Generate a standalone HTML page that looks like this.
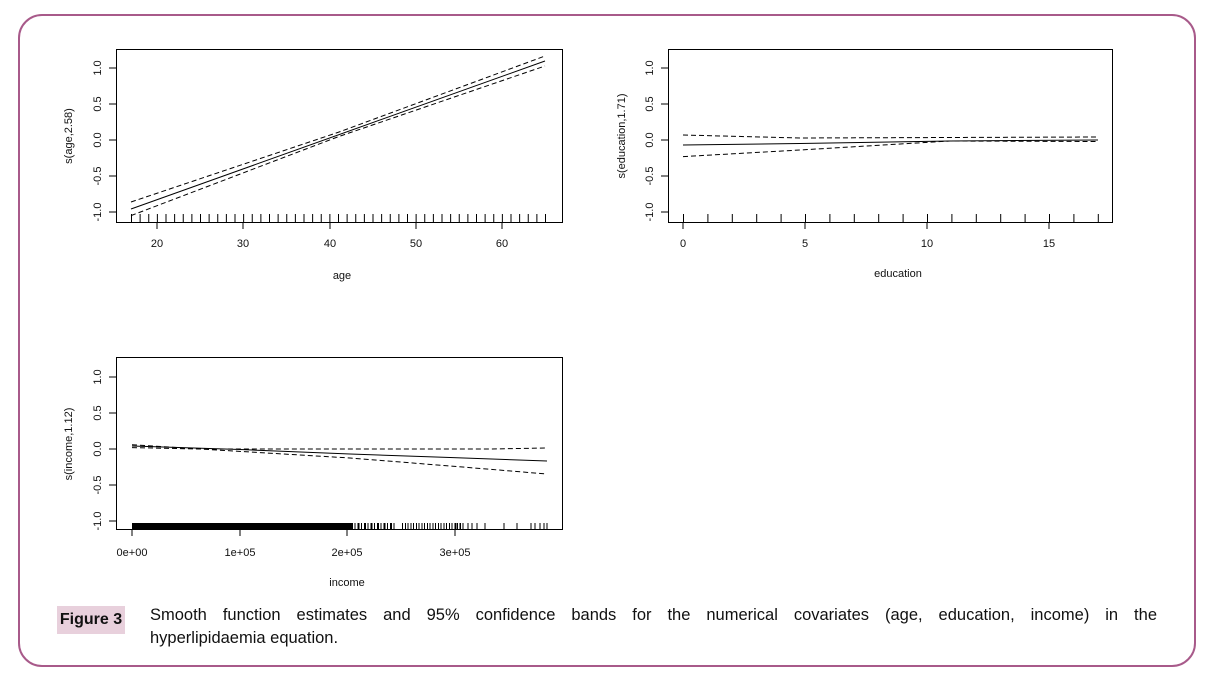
<!DOCTYPE html>
<html><head><meta charset="utf-8"><style>
body{margin:0;background:#fff;width:1209px;height:683px;overflow:hidden;position:relative;font-family:"Liberation Sans",sans-serif}
.frame{position:absolute;left:18px;top:14px;width:1178px;height:653px;border:2px solid #a85a8a;border-radius:24px;box-sizing:border-box}
.lab{position:absolute;left:57px;top:606px;width:68px;height:28px;background:#e8d0dc;font-weight:bold;font-size:16px;line-height:28px;text-align:center;color:#111}
.cap{position:absolute;left:150px;width:1007px;font-size:16.5px;line-height:23px;color:#111;white-space:nowrap}
.l1{top:604px;text-align:justify;text-align-last:justify}
.l2{top:627px}
svg text{font-family:"Liberation Sans",sans-serif;font-size:11px;fill:#111}
</style></head><body>
<svg width="1209" height="683" style="position:absolute;left:0;top:0">
<g stroke="#000" fill="none" stroke-width="1">
<rect x="116.5" y="49.5" width="446" height="173"/>
<line x1="116" y1="68" x2="109" y2="68"/><line x1="116" y1="104" x2="109" y2="104"/><line x1="116" y1="140" x2="109" y2="140"/><line x1="116" y1="176" x2="109" y2="176"/><line x1="116" y1="212" x2="109" y2="212"/>
<line x1="157" y1="222" x2="157" y2="229"/><line x1="243" y1="222" x2="243" y2="229"/><line x1="330" y1="222" x2="330" y2="229"/><line x1="416" y1="222" x2="416" y2="229"/><line x1="502" y1="222" x2="502" y2="229"/>
<line x1="131" y1="218" x2="546" y2="218" stroke-width="8" stroke-dasharray="1 7.625"/>
<polyline points="131,209 545,61"/>
<polyline stroke-dasharray="5 3" points="131,202 338,132.4 545,56"/>
<polyline stroke-dasharray="5 3" points="131,215.6 338,136.8 545,66"/>
<rect x="668.5" y="49.5" width="444" height="173"/>
<line x1="668" y1="68" x2="661" y2="68"/><line x1="668" y1="104" x2="661" y2="104"/><line x1="668" y1="140" x2="661" y2="140"/><line x1="668" y1="176" x2="661" y2="176"/><line x1="668" y1="212" x2="661" y2="212"/>
<line x1="683" y1="222" x2="683" y2="229"/><line x1="805" y1="222" x2="805" y2="229"/><line x1="927" y1="222" x2="927" y2="229"/><line x1="1049" y1="222" x2="1049" y2="229"/>
<line x1="683" y1="218" x2="1100" y2="218" stroke-width="8" stroke-dasharray="1 23.4"/>
<polyline points="683,145 800,143.5 950,141 1098,140"/>
<polyline stroke-dasharray="5 3" points="683,135 800,138 1098,137"/>
<polyline stroke-dasharray="5 3" points="683,156.6 800,150 950,141 1098,141.5"/>
<rect x="116.5" y="357.5" width="446" height="172"/>
<line x1="116" y1="377" x2="109" y2="377"/><line x1="116" y1="413" x2="109" y2="413"/><line x1="116" y1="449" x2="109" y2="449"/><line x1="116" y1="485" x2="109" y2="485"/><line x1="116" y1="521" x2="109" y2="521"/>
<line x1="132" y1="529" x2="132" y2="536"/><line x1="240" y1="529" x2="240" y2="536"/><line x1="347" y1="529" x2="347" y2="536"/><line x1="455" y1="529" x2="455" y2="536"/>
<rect x="132" y="523" width="219" height="6" fill="#000" stroke="none"/>
<line x1="351" y1="526" x2="395" y2="526" stroke-width="6" stroke-dasharray="2 1.5 1 2"/>
<line x1="402" y1="526" x2="465" y2="526" stroke-width="6" stroke-dasharray="1 2 1 1.5"/>
<g stroke-width="1"><line x1="456" y1="523" x2="456" y2="529"/><line x1="460" y1="523" x2="460" y2="529"/><line x1="468" y1="523" x2="468" y2="529"/><line x1="472" y1="523" x2="472" y2="529"/><line x1="477" y1="523" x2="477" y2="529"/><line x1="485" y1="523" x2="485" y2="529"/><line x1="504" y1="523" x2="504" y2="529"/><line x1="517" y1="523" x2="517" y2="529"/><line x1="531" y1="523" x2="531" y2="529"/><line x1="535" y1="523" x2="535" y2="529"/><line x1="540" y1="523" x2="540" y2="529"/><line x1="544" y1="523" x2="544" y2="529"/><line x1="547" y1="523" x2="547" y2="529"/></g>
<polyline points="132,446 240,449.5 350,454 450,457.5 547,461"/>
<polyline stroke-dasharray="5 3" points="132,444.7 200,449 490,449 547,448"/>
<polyline stroke-dasharray="5 3" points="132,447.6 200,449 350,458 450,466 547,474"/>
</g>
<g text-anchor="middle">
<text x="157" y="247">20</text><text x="243" y="247">30</text><text x="330" y="247">40</text><text x="416" y="247">50</text><text x="502" y="247">60</text>
<text x="342" y="279" font-size="10">age</text>
<text x="683" y="247">0</text><text x="805" y="247">5</text><text x="927" y="247">10</text><text x="1049" y="247">15</text>
<text x="898" y="277" font-size="10">education</text>
<text x="132" y="556" font-size="10">0e+00</text><text x="240" y="556" font-size="10">1e+05</text><text x="347" y="556" font-size="10">2e+05</text><text x="455" y="556" font-size="10">3e+05</text>
<text x="347" y="586" font-size="10">income</text>
<g transform="translate(101,0)"><text transform="translate(0,68) rotate(-90)">1.0</text><text transform="translate(0,104) rotate(-90)">0.5</text><text transform="translate(0,140) rotate(-90)">0.0</text><text transform="translate(0,176) rotate(-90)">-0.5</text><text transform="translate(0,212) rotate(-90)">-1.0</text></g>
<g transform="translate(653,0)"><text transform="translate(0,68) rotate(-90)">1.0</text><text transform="translate(0,104) rotate(-90)">0.5</text><text transform="translate(0,140) rotate(-90)">0.0</text><text transform="translate(0,176) rotate(-90)">-0.5</text><text transform="translate(0,212) rotate(-90)">-1.0</text></g>
<g transform="translate(101,0)"><text transform="translate(0,377) rotate(-90)">1.0</text><text transform="translate(0,413) rotate(-90)">0.5</text><text transform="translate(0,449) rotate(-90)">0.0</text><text transform="translate(0,485) rotate(-90)">-0.5</text><text transform="translate(0,521) rotate(-90)">-1.0</text></g>
<text transform="translate(72,136) rotate(-90)" font-size="10">s(age,2.58)</text>
<text transform="translate(625,136) rotate(-90)" font-size="10">s(education,1.71)</text>
<text transform="translate(72,444) rotate(-90)" font-size="10">s(income,1.12)</text>
</g>
</svg>
<div class="frame"></div>
<div class="lab">Figure 3</div>
<div class="cap l1">Smooth function estimates and 95% confidence bands for the numerical covariates (age, education, income) in the</div>
<div class="cap l2">hyperlipidaemia equation.</div>
</body></html>
